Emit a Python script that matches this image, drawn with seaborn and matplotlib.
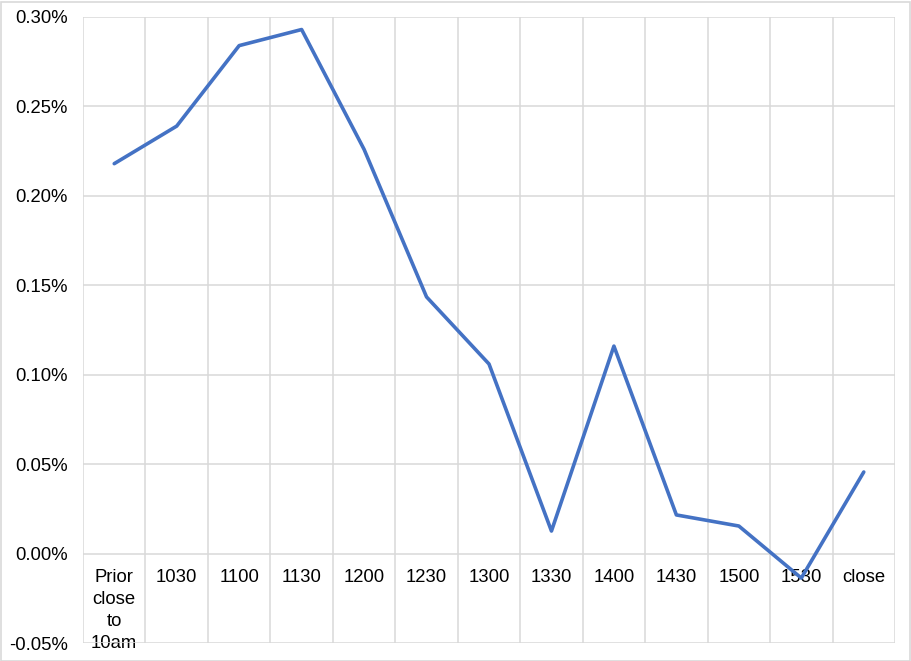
import matplotlib
matplotlib.use("Agg")
import matplotlib.pyplot as plt
import matplotlib.ticker as mticker
from matplotlib.patches import Rectangle
import seaborn as sns
import pandas as pd
import numpy as np

categories = ["Prior\nclose\nto\n10am", "1030", "1100", "1130", "1200", "1230", "1300",
              "1330", "1400", "1430", "1500", "1530", "close"]
values_pct = [0.218, 0.239, 0.284, 0.293, 0.226, 0.1435, 0.106, 0.0126, 0.116,
              0.0216, 0.0154, -0.0137, 0.0456]
y_ticks_pct = [-0.05, 0.00, 0.05, 0.10, 0.15, 0.20, 0.25, 0.30]

sns.set_theme(style="white")
plt.rcParams['font.family'] = ['Liberation Sans', 'DejaVu Sans']

df = pd.DataFrame({"pos": np.arange(len(categories)), "value": np.array(values_pct) / 100})

fig = plt.figure(figsize=(9.11, 6.61), dpi=100)
W, H = 911, 661
ax = fig.add_axes([83 / W, 18 / H, (895 - 83) / W, (643 - 17) / H])

grid_c = "#D9D9D9"
sns.lineplot(data=df, x="pos", y="value", ax=ax, color="#4472C4", linewidth=2.6)

ax.set_xlim(-0.5, len(categories) - 0.5)
ax.set_ylim(y_ticks_pct[0] / 100, y_ticks_pct[-1] / 100)
ax.set_yticks([t / 100 for t in y_ticks_pct])
ax.yaxis.set_major_formatter(mticker.FuncFormatter(lambda v, p: f"{v*100:.2f}%"))
ax.set_xticks(np.arange(len(categories)))
ax.set_xticklabels(categories)
ax.set_xticks(np.arange(len(categories) + 1) - 0.5, minor=True)

ax.grid(which="major", axis="y", color=grid_c, linewidth=1.1)
ax.grid(which="minor", axis="x", color=grid_c, linewidth=1.1)
ax.set_axisbelow(True)

for s in ["top", "right", "left"]:
    ax.spines[s].set_visible(False)
ax.spines["bottom"].set_position(("data", 0))
ax.spines["bottom"].set_visible(False)

ax.tick_params(axis="x", which="both", length=0, pad=11, labelsize=13.3, colors="black")
ax.tick_params(axis="y", length=0, pad=11, labelsize=13.3, colors="black")
for lab in ax.get_xticklabels():
    lab.set_verticalalignment("top")
    lab.set_linespacing(1.4)

ax.set_xlabel("")
ax.set_ylabel("")

fig.patches.append(Rectangle((0.5 / W, 0.5 / H), (W - 2) / W, (H - 2) / H,
                             transform=fig.transFigure, fill=False,
                             edgecolor=grid_c, linewidth=1.2))

fig.savefig("out.png", dpi=100)
